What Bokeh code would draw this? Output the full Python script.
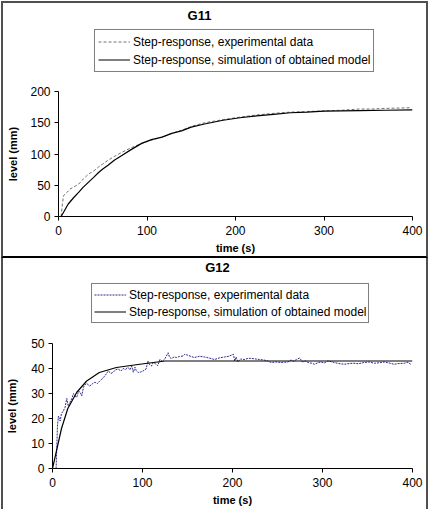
from bokeh.plotting import figure
from bokeh.models import Range1d, Legend, LegendItem, Label
from bokeh.layouts import column
from bokeh.embed import file_html
from bokeh.resources import INLINE

FONT = "Liberation Sans"

# ---------------- data: G11 ----------------
g11_title = "G11"
g11_exp_t = [3, 4, 5.6, 8, 10, 13, 17, 23, 28, 34, 40, 45, 50, 56, 63, 72, 82, 94, 105, 117,
             128, 139, 152, 165, 186, 205, 224, 243, 262, 281, 300, 320, 340, 355, 370, 385, 397]
g11_exp_y = [0, 15, 33, 37, 39, 44, 47, 52, 60, 68, 73, 79, 84, 90, 96, 103, 110, 117, 122, 127,
             133, 138, 145, 150, 155, 159, 162.5, 165, 167, 168, 169, 170, 172, 172, 173, 173.5, 174]
g11_mod_t = [3, 7, 11, 17, 23, 28, 34, 40, 45, 50, 56, 63, 72, 82, 94, 105, 117, 128, 139, 150,
             165, 186, 205, 224, 243, 262, 281, 300, 320, 340, 370, 400]
g11_mod_y = [0, 10, 20, 30, 39, 47, 55, 63, 70, 76, 82, 90, 98, 107, 117, 123, 127, 133, 137, 143,
             148, 154, 158, 161, 163.5, 166, 167, 168.5, 169, 169.5, 170, 170.5]
g11_yticks = [0, 50, 100, 150, 200]

# ---------------- data: G12 ----------------
g12_title = "G12"
g12_exp_t = [4, 4.8, 5.5, 6.6, 8.5, 10, 12, 14, 15.8, 17.5, 19.6, 21.5, 23.3, 25, 27, 29, 30.7, 32.5,
             34.4, 36, 38, 41.5, 44, 47, 50, 52.5, 55, 58, 62, 65, 67.5, 70, 73, 76, 78.5, 81, 84, 86,
             88, 89.8, 91.6, 93, 95, 98, 100.5, 104, 106, 108, 110, 112, 114, 117, 119.5, 122, 125,
             128.5, 130, 132, 135, 138, 141, 145, 147, 150.5, 154, 158, 163, 169, 174, 180, 186, 191,
             196, 201, 202.5, 204, 206, 209, 213, 218, 224, 230, 235, 239, 243, 248, 254, 258, 261.5,
             265, 268, 271, 274.5, 278, 281, 284, 288, 291, 295, 298, 302, 306, 310, 313, 318, 324,
             330, 335, 340, 346, 352, 357.6, 363, 368.6, 374, 379.7, 385, 390.8, 395, 398]
g12_exp_y = [0, 9, 17, 21, 19, 22, 23, 24.5, 28, 25, 26.6, 28, 30, 29, 28.5, 31, 30.5, 29,
             32.5, 33.5, 34, 33, 33.8, 34.5, 34, 35, 35.8, 37, 39, 38, 38.5, 39.5, 39.8, 39, 40, 39.6, 40.4, 39.5,
             41, 38.5, 40.5, 39.2, 38.4, 38.6, 39, 39.8, 43, 41.5, 41, 42.5, 42, 41.2, 43.7, 42.8, 44,
             46.3, 44.5, 44, 44.6, 44.4, 44.8, 45, 45.7, 45.3, 44.8, 44.4, 44.9, 44.6, 44.2, 43.6, 44.3, 44.6,
             44.9, 45.7, 43, 44.6, 42.6, 43.8, 43.6, 44.1, 43.9, 43.6, 43.4, 43.0, 42.4, 42.6, 42.4, 42.5, 42.6,
             43.4, 42.9, 43.6, 44.2, 42.6, 43.0, 42.4, 42.1, 41.7, 42.3, 42.6, 42.2, 43, 42.7, 42.4, 42.0, 41.7,
             42.0, 42.1, 41.9, 42.4, 42.6, 42.1, 42.3, 42.6, 42.2, 41.7, 42.0, 42.1, 42.5, 41.7]
g12_mod_t = [0, 5, 10, 17, 27, 38, 52, 71, 93, 110, 125, 400]
g12_mod_y = [0, 8, 16, 24, 30.5, 35, 38.4, 40.4, 41.5, 42.3, 43, 43]
g12_yticks = [0, 10, 20, 30, 40, 50]

x_ticks = [0, 100, 200, 300, 400]
legend_labels = ["Step-response, experimental data",
                 "Step-response, simulation of obtained model"]
x_label = "time (s)"
y_label = "level (mm)"

W = 423  # inner width of each bordered panel


def style_exp(color, dash):
    return dict(line_color=color, line_width=1, line_dash=dash)


MOD_STYLE = dict(line_color="black", line_width=1.2)


def make_header(title, title_cx, title_y, height, b_left, b_right, legend_loc, exp_color,
                exp_dash, leg_pad, leg_spacing, exp_t, exp_y, mod_t, mod_y):
    # header strip (title + legend); its frame matches the plot frame below
    h = figure(width=W, height=height, output_backend="svg", toolbar_location=None,
               x_range=Range1d(0, 400), y_range=Range1d(height, 0),
               x_axis_location=None, y_axis_location=None,
               min_border_left=b_left, min_border_right=b_right,
               min_border_top=0, min_border_bottom=0)
    h.grid.visible = False
    h.outline_line_color = None
    h.background_fill_color = "white"
    h.border_fill_color = "white"
    # legend-only renderers: one point each (a one-point line draws nothing)
    r_exp = h.line(exp_t[:1], exp_y[:1], **style_exp(exp_color, exp_dash))
    r_mod = h.line(mod_t[:1], mod_y[:1], **MOD_STYLE)
    legend = Legend(items=[LegendItem(label=legend_labels[0], renderers=[r_exp]),
                           LegendItem(label=legend_labels[1], renderers=[r_mod])],
                    location=legend_loc)
    legend.label_text_font = FONT
    legend.label_text_font_size = "12px"
    legend.label_text_color = "black"
    legend.label_height = 17
    legend.glyph_height = 17
    legend.glyph_width = 32
    legend.label_standoff = 3
    legend.spacing = leg_spacing
    legend.padding = leg_pad
    legend.margin = 0
    legend.border_line_color = "black"
    legend.border_line_width = 1
    legend.background_fill_color = "white"
    legend.background_fill_alpha = 1
    h.add_layout(legend, "center")
    h.add_layout(Label(x=title_cx, y=title_y, x_units="canvas", text=title, text_font=FONT,
                       text_font_size="13px", text_font_style="bold", text_align="center",
                       text_baseline="middle", text_color="black"))
    return h


def make_plot(exp_t, exp_y, mod_t, mod_y, yticks, exp_color, exp_dash, height,
              b_left, b_right, b_top, b_bottom, lab_standoff_y):
    p = figure(width=W, height=height, output_backend="svg", toolbar_location=None,
               x_range=Range1d(0, 400), y_range=Range1d(0, yticks[-1]),
               min_border_left=b_left, min_border_right=b_right,
               min_border_top=b_top, min_border_bottom=b_bottom)
    p.outline_line_color = None
    p.background_fill_color = "white"
    p.border_fill_color = "white"
    p.grid.visible = False

    p.line(exp_t, exp_y, **style_exp(exp_color, exp_dash))
    p.line(mod_t, mod_y, **MOD_STYLE)

    for ax in (p.xaxis[0], p.yaxis[0]):
        ax.axis_line_color = "black"
        ax.major_tick_line_color = "black"
        ax.minor_tick_line_color = None
        ax.major_tick_in = 0
        ax.major_tick_out = 4
        ax.major_label_text_font = FONT
        ax.major_label_text_font_size = "12px"
        ax.major_label_text_color = "black"
        ax.axis_label_text_font = FONT
        ax.axis_label_text_font_size = "11px"
        ax.axis_label_text_font_style = "bold"
        ax.axis_label_text_color = "black"
    p.xaxis.ticker = x_ticks
    p.yaxis.ticker = yticks
    p.xaxis.axis_label = x_label
    p.yaxis.axis_label = y_label
    p.xaxis.major_label_standoff = 5
    p.xaxis.axis_label_standoff = 4
    p.yaxis.major_label_standoff = 4
    p.yaxis.axis_label_standoff = lab_standoff_y
    return p


BORDER = "2px solid #505050"

# panel G11
h1 = make_header(g11_title, 196, 12, 77, 55, 14, (36, 8), "#707070", "3 2", 3, 1,
                 g11_exp_t, g11_exp_y, g11_mod_t, g11_mod_y)
p1 = make_plot(g11_exp_t, g11_exp_y, g11_mod_t, g11_mod_y, g11_yticks, "#707070", "3 2",
               176, 55, 14, 11, 40, 8)
panel1 = column(h1, p1, spacing=0,
                styles={"border-left": BORDER, "border-right": BORDER, "border-top": BORDER,
                        "border-bottom": "2px solid #000000", "margin-left": "1px",
                        "margin-top": "1px"})

# panel G12
h2 = make_header(g12_title, 214, 9, 73, 49, 14, (39, 8), "#2b2b8c", "2 1", 2, 0,
                 g12_exp_t, g12_exp_y, g12_mod_t, g12_mod_y)
p2 = make_plot(g12_exp_t, g12_exp_y, g12_mod_t, g12_mod_y, g12_yticks, "#2b2b8c", "2 1",
               178, 49, 14, 12, 41, 10)
panel2 = column(h2, p2, spacing=0,
                styles={"border-left": BORDER, "border-right": BORDER, "margin-left": "1px"})

layout = column(panel1, panel2, spacing=0)
open("out.html", "w").write(file_html(layout, INLINE))
